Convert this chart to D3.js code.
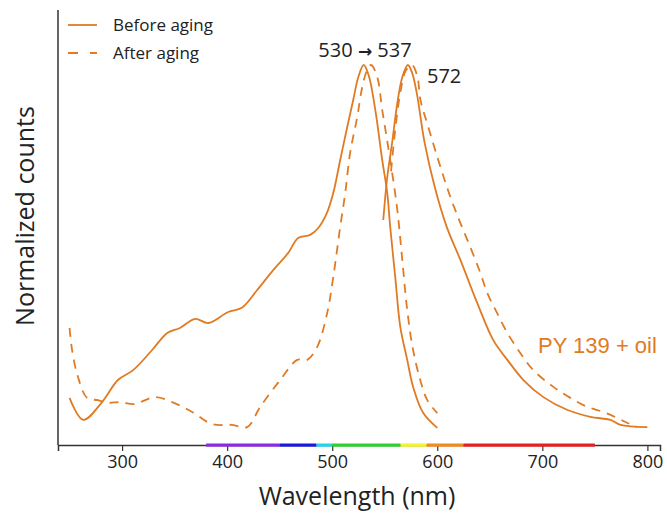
<!DOCTYPE html>
<html><head><meta charset="utf-8">
<script src="https://cdn.jsdelivr.net/npm/d3@7"></script>
<style>body{margin:0;background:#fff}svg{display:block}</style>
</head><body>
<svg id="c" width="667" height="513"></svg>
<script>
// Data (wavelength nm, normalized counts)
const excBefore = [[250,0.124],[263,0.066],[281,0.113],[296,0.171],[310.5,0.197],[328.6,0.25],[343,0.295],[355,0.308],[369.5,0.332],[382,0.321],[401,0.35],[414,0.361],[428.6,0.408],[444,0.461],[458,0.505],[467.6,0.545],[479,0.553],[486.7,0.571],[495,0.611],[501,0.663],[507.6,0.75],[514.3,0.837],[520,0.908],[524.8,0.968],[530,1.0],[535,0.97],[541,0.882],[547.6,0.75],[552.4,0.663],[555.2,0.574],[560,0.442],[564.8,0.311],[571.4,0.224],[577,0.153],[586.7,0.084],[600,0.045]];
const excAfter = [[250,0.308],[252.4,0.25],[258,0.179],[266.7,0.124],[277,0.118],[286.7,0.111],[298,0.113],[312,0.108],[331,0.126],[347.6,0.113],[366.7,0.087],[385.7,0.055],[404.8,0.053],[419,0.047],[431.4,0.1],[450.5,0.171],[466.7,0.224],[476.2,0.224],[485.7,0.258],[495.2,0.347],[501,0.442],[507.6,0.574],[512.4,0.663],[517,0.768],[523.8,0.863],[528.6,0.942],[533.3,0.987],[537,1.0],[542.9,0.968],[547.6,0.882],[555.2,0.75],[562,0.618],[566.7,0.487],[571.4,0.355],[577,0.25],[583.8,0.171],[590.5,0.118],[600,0.084]];
const emBefore = [[548.6,0.592],[552.4,0.705],[557,0.795],[562,0.9],[566.7,0.968],[572,1.0],[576,0.98],[580.5,0.926],[588,0.795],[597.6,0.679],[609,0.574],[622,0.487],[638,0.374],[653.3,0.276],[666.7,0.224],[682,0.171],[701,0.126],[724,0.092],[745.7,0.074],[764.8,0.066],[774.3,0.053],[800,0.047]];
const emAfter = [[556,0.72],[560,0.83],[565,0.93],[570,0.985],[576,1.0],[581,0.97],[584,0.908],[591.4,0.837],[603,0.732],[612.4,0.653],[622,0.584],[631.4,0.521],[641,0.453],[647.6,0.4],[657,0.347],[666.7,0.295],[679,0.242],[691.4,0.197],[710.5,0.153],[726.7,0.124],[743,0.1],[758,0.087],[771.4,0.071],[781,0.058],[790,0.047]];
const xTicks = [300,400,500,600,700,800];
const spectrum = [[380,450,"#8a2be2"],[450,485,"#1a1adc"],[485,500,"#22d3f0"],[500,565,"#2fd12f"],[565,590,"#f3f32a"],[590,625,"#f28a1e"],[625,750,"#e81f1f"]];
const legendLabels = ["Before aging","After aging"];

const orange = "#E07B24";
const axisCol = "#333";
const font = "'Open Sans', sans-serif";
const svg = d3.select("#c");
const x = d3.scaleLinear().domain([239,812]).range([58,660]);
const y = d3.scaleLinear().domain([0,1]).range([445,65]);

// axes
svg.append("line").attr("x1",58).attr("x2",58).attr("y1",10).attr("y2",445).attr("stroke",axisCol).attr("stroke-width",1.5);
const xAxis = d3.axisBottom(x).tickValues(xTicks).tickSize(6).tickFormat(d3.format("d"));
const gx = svg.append("g").attr("transform","translate(0,445)").call(xAxis);
gx.select(".domain").attr("stroke",axisCol).attr("stroke-width",1.5);
gx.selectAll(".tick line").attr("stroke",axisCol).attr("stroke-width",1.2);
gx.selectAll(".tick text").attr("font-family",font).attr("font-size",18).attr("fill","#222").attr("y",23).attr("dy",null);

// spectrum bar
svg.append("g").selectAll("rect").data(spectrum).join("rect")
  .attr("x",d=>x(d[0])).attr("width",d=>x(d[1])-x(d[0])).attr("y",443.5).attr("height",3.2).attr("fill",d=>d[2]);

// curves
const line = d3.line().x(d=>x(d[0])).y(d=>y(d[1])).curve(d3.curveCatmullRom.alpha(0.5));
const series = [[excBefore,false],[excAfter,true],[emBefore,false],[emAfter,true]];
series.forEach(([data,dashed])=>{
  svg.append("path").attr("d",line(data)).attr("fill","none").attr("stroke",orange)
    .attr("stroke-width",1.8).attr("stroke-dasharray",dashed?"9,7":null).attr("stroke-linecap","butt");
});

// legend
legendLabels.forEach((t,i)=>{
  const yy = 25+i*28;
  svg.append("line").attr("x1",68).attr("x2",97).attr("y1",yy).attr("y2",yy).attr("stroke",orange).attr("stroke-width",1.8)
    .attr("stroke-dasharray",i?"10,12":null);
  svg.append("text").attr("x",113).attr("y",yy+6).text(t).attr("font-family",font).attr("font-size",17).attr("fill","#222");
});

// annotations
const t1 = svg.append("text").attr("x",365).attr("y",57).attr("text-anchor","middle").attr("font-family",font).attr("font-size",20).attr("fill","#222");
t1.append("tspan").text("530 ");
t1.append("tspan").attr("font-family","'DejaVu Sans', sans-serif").attr("font-weight","bold").attr("font-size",17).text("→");
t1.append("tspan").text(" 537");
svg.append("text").attr("x",427).attr("y",83).text("572").attr("font-family",font).attr("font-size",20).attr("fill","#222");
svg.append("text").attr("x",538).attr("y",353).text("PY 139 + oil").attr("font-family","'Liberation Sans', Arial, sans-serif").attr("font-size",22).attr("fill",orange);

// axis titles
svg.append("text").attr("x",357).attr("y",505).attr("text-anchor","middle").text("Wavelength (nm)").attr("font-family",font).attr("font-size",25).attr("fill","#222");
svg.append("text").attr("transform","translate(34,216) rotate(-90)").attr("text-anchor","middle").text("Normalized counts").attr("font-family",font).attr("font-size",25).attr("fill","#222");
</script>
</body></html>
